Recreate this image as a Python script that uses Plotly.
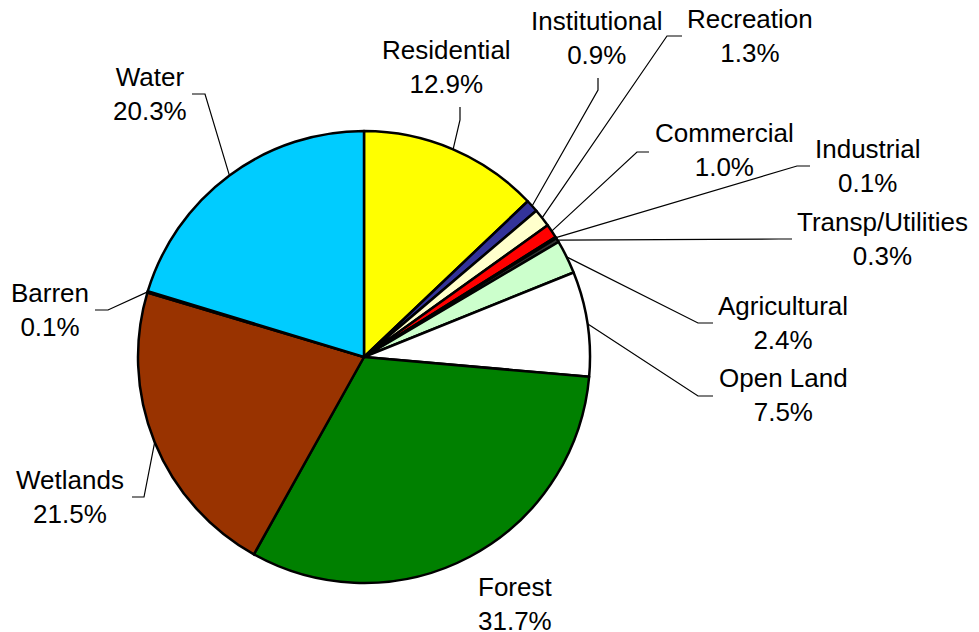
import math
import plotly.graph_objects as go

categories = ["Residential", "Institutional", "Recreation", "Commercial", "Industrial",
              "Transp/Utilities", "Agricultural", "Open Land", "Forest", "Wetlands",
              "Barren", "Water"]
values = [12.9, 0.9, 1.3, 1.0, 0.1, 0.3, 2.4, 7.5, 31.7, 21.5, 0.1, 20.3]
colors = ["#FFFF00", "#333399", "#FFFFCC", "#FF0000", "#FF9999", "#333333",
          "#CCFFCC", "#FFFFFF", "#008000", "#993300", "#C0C0C0", "#00CCFF"]

# label layout (pixel positions): text centre, stub start, stub end
label_pos = {
    "Residential": (446, 67, (460, 107), (460, 120)),
    "Institutional": (597, 38, (598, 78), (598, 90)),
    "Recreation": (750, 36, (682, 36), (667, 36)),
    "Commercial": (724, 150, (649, 152), (637, 152)),
    "Industrial": (868, 166, (810, 166), (797, 166)),
    "Transp/Utilities": (882, 239, (792, 239), (779, 239)),
    "Agricultural": (783, 323, (713, 323), (698, 323)),
    "Open Land": (783, 395, (713, 396), (698, 396)),
    "Forest": (515, 604, None, None),
    "Wetlands": (70, 497, (132, 497), (144, 497)),
    "Barren": (50, 310, (95, 310), (108, 310)),
    "Water": (150, 94, (192, 94), (205, 94)),
}

W, H = 979, 632
CX, CY, R = 364, 357, 226

fig = go.Figure()
fig.add_trace(go.Pie(
    labels=categories, values=values, sort=False, direction="clockwise", rotation=0,
    marker=dict(colors=colors, line=dict(color="black", width=2.5)),
    textinfo="none", showlegend=False,
    domain=dict(x=[(CX - R) / W, (CX + R) / W],
                y=[(H - CY - R) / H, (H - CY + R) / H]),
))

total = sum(values)
cum = 0.0
shapes = []
annotations = []
for cat, v in zip(categories, values):
    mid = (cum + v / 2) / total * 2 * math.pi
    cum += v
    px = CX + R * math.sin(mid)
    py = CY - R * math.cos(mid)
    tx, ty, s0, s1 = label_pos[cat]
    annotations.append(dict(
        x=tx, y=ty, xref="x", yref="y", showarrow=False,
        text=f"{cat}<br>{v:.1f}%", align="center",
        xanchor="center", yanchor="middle",
        font=dict(family="Liberation Sans, Arial, sans-serif", size=26, color="black"),
    ))
    if s0 is not None:
        shapes.append(dict(
            type="path", xref="x", yref="y",
            path=f"M {s0[0]},{s0[1]} L {s1[0]},{s1[1]} L {px:.1f},{py:.1f}",
            line=dict(color="black", width=1.2),
        ))

fig.update_layout(
    width=W, height=H, margin=dict(l=0, r=0, t=0, b=0),
    paper_bgcolor="white", plot_bgcolor="rgba(0,0,0,0)",
    xaxis=dict(range=[0, W], visible=False, domain=[0, 1], fixedrange=True),
    yaxis=dict(range=[H, 0], visible=False, domain=[0, 1], fixedrange=True),
    shapes=shapes, annotations=annotations,
)
fig.write_html(
    "out.html",
    config={"displayModeBar": False},
    post_script="document.body.style.margin='0';document.body.style.padding='0';"
                "document.body.style.overflow='hidden';",
)
